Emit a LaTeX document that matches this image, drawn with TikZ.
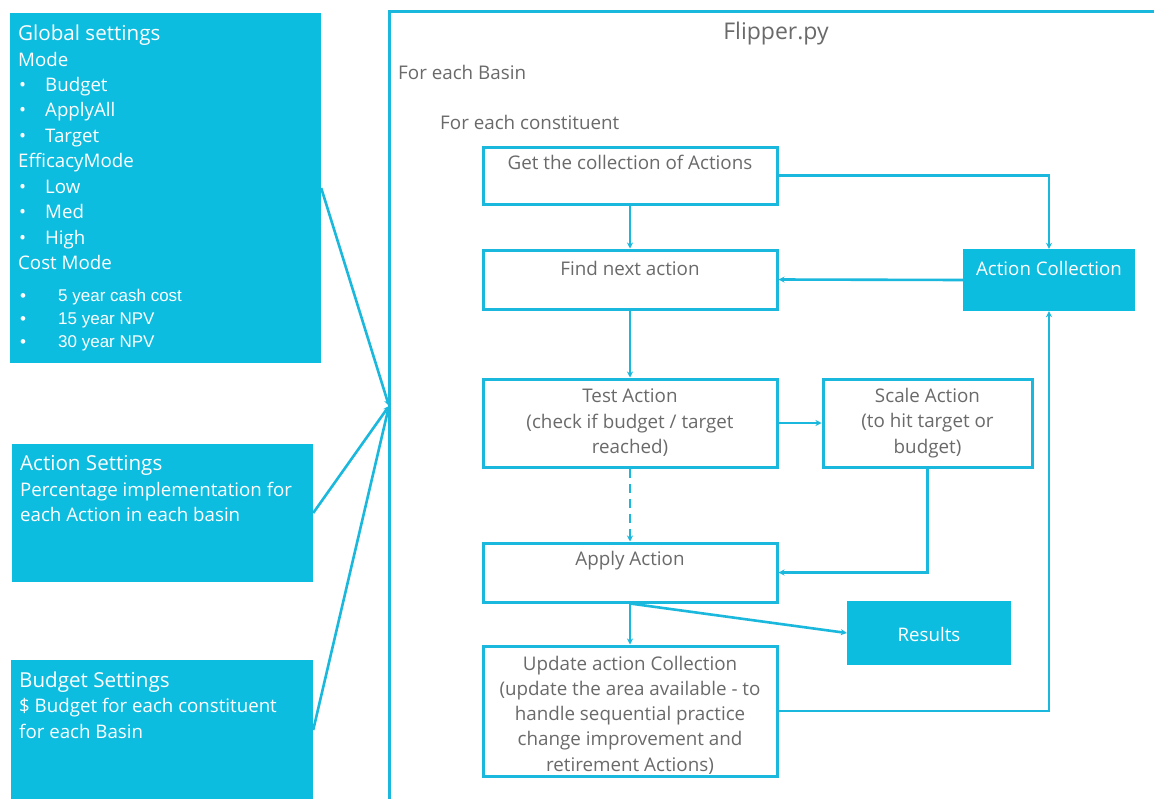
\documentclass[tikz,border=0pt]{standalone}
\usepackage{fontspec}
\setmainfont{Open Sans}
\newfontfamily\arialf{Liberation Sans}
\usetikzlibrary{arrows.meta}
\definecolor{cy}{HTML}{0DBDE0}
\definecolor{cyl}{HTML}{1AB8DC}
\definecolor{tg}{HTML}{6A6A6A}
\tikzset{
  wbox/.style={draw=cyl, line width=3pt, fill=white, inner sep=0pt},
  cbox/.style={fill=cy, draw=none, inner sep=0pt},
  wt/.style={text=white, inner sep=0pt, font=\fontsize{18.7}{22}\selectfont},
  gt/.style={text=tg, inner sep=0pt, font=\fontsize{18.8}{22}\selectfont},
  ct/.style={text=white, inner sep=0pt, font=\arialf\fontsize{17}{20}\selectfont},
  conn/.style={draw=cyl, line width=2.6pt, -{Stealth[length=6pt,width=6pt]}},
}
\newcommand{\bul}[1]{\makebox[27pt][l]{\hspace{1pt}•}#1}
\newcommand{\cbul}[1]{\makebox[40pt][l]{\hspace{2pt}•}#1}
\begin{document}
\begin{tikzpicture}[x=1pt,y=-1pt]
\clip (0,0) rectangle (1154,798);
\fill[white] (0,0) rectangle (1154,798);

% Flipper outer box
\node[draw=cyl, line width=3pt, anchor=north west, minimum width=800pt, minimum height=820pt, inner sep=0pt] (flip) at (388,10) {};
\node[gt, font=\fontsize{23}{26}\selectfont] (title) at (776,34) {Flipper.py};
\node[gt, anchor=west] (basin) at (398,72) {For each Basin};
\node[gt, anchor=west] (constit) at (440,122) {For each constituent};

% left settings boxes
\node[cbox, minimum width=311pt, minimum height=350pt] (global) at (165.5,188) {};
\node[cbox, minimum width=301pt, minimum height=138pt] (actset) at (162.5,513) {};
\node[cbox, minimum width=302pt, minimum height=140pt] (budset) at (162,730) {};

\node[wt, anchor=base west, font=\fontsize{20.6}{24}\selectfont] (g0) at (18,40) {Global settings};
\node[wt, anchor=base west] (g1) at (18,66) {Mode};
\node[wt, anchor=base west] (g2) at (18,91) {\bul{Budget}};
\node[wt, anchor=base west] (g3) at (18,116.5) {\bul{ApplyAll}};
\node[wt, anchor=base west] (g4) at (18,142) {\bul{Target}};
\node[wt, anchor=base west] (g5) at (18,167.5) {EfficacyMode};
\node[wt, anchor=base west] (g6) at (18,193) {\bul{Low}};
\node[wt, anchor=base west] (g7) at (18,218.5) {\bul{Med}};
\node[wt, anchor=base west] (g8) at (18,244) {\bul{High}};
\node[wt, anchor=base west] (g9) at (18,269) {Cost Mode};
\node[ct, anchor=base west] (g10) at (18,301) {\cbul{5 year cash cost}};
\node[ct, anchor=base west] (g11) at (18,324) {\cbul{15 year NPV}};
\node[ct, anchor=base west] (g12) at (18,347) {\cbul{30 year NPV}};

\node[wt, anchor=base west, font=\fontsize{20.6}{24}\selectfont] (a0) at (20,470) {Action Settings};
\node[wt, anchor=base west] (a1) at (20,496) {Percentage implementation for};
\node[wt, anchor=base west] (a2) at (20,521) {each Action in each basin};

\node[wt, anchor=base west, font=\fontsize{20.6}{24}\selectfont] (u0) at (19,687) {Budget Settings};
\node[wt, anchor=base west] (u1) at (19,712) {\$ Budget for each constituent};
\node[wt, anchor=base west] (u2) at (19,738) {for each Basin};

% flow boxes
\node[wbox, minimum width=294pt, minimum height=57pt] (get) at (630,175.5) {};
\node[wbox, minimum width=294pt, minimum height=59pt] (find) at (630,279.5) {};
\node[wbox, minimum width=294pt, minimum height=88pt] (test) at (630,423) {};
\node[wbox, minimum width=209pt, minimum height=88pt] (scale) at (927.5,423) {};
\node[wbox, minimum width=294pt, minimum height=59pt] (apply) at (630,572.5) {};
\node[wbox, minimum width=294pt, minimum height=130pt] (update) at (630,711) {};
\node[cbox, minimum width=172pt, minimum height=62pt] (actcoll) at (1049,280) {};
\node[cbox, minimum width=164pt, minimum height=64pt] (results) at (929,633) {};

\node[gt] (tget) at (630,162) {Get the collection of Actions};
\node[gt] (tfind) at (630,268) {Find next action};
\node[gt, align=center, font=\fontsize{18.8}{25.5}\selectfont] (ttest) at (630,423) {Test Action\\(check if budget / target\\reached)};
\node[gt, align=center, font=\fontsize{18.8}{25.5}\selectfont] (tscale) at (927.5,423) {Scale Action\\(to hit target or\\budget)};
\node[gt] (tapply) at (630,561) {Apply Action};
\node[gt, align=center, font=\fontsize{18.8}{25.3}\selectfont] (tupdate) at (630,715) {Update action Collection\\(update the area available - to\\handle sequential practice\\change improvement and\\retirement Actions)};
\node[wt] (tact) at (1049,268) {Action Collection};
\node[wt] (tres) at (929,634) {Results};

% connectors
\coordinate (conv) at (389,406);
\draw[conn] (global.east) -- (conv);
\draw[conn] (actset.east) -- (conv);
\draw[conn] (budset.east) -- (conv);

\draw[conn] (get.south) -- (find.north);
\draw[conn] (get.east) -| (actcoll.north);
\draw[conn] (actcoll.west) -- (find.east);
\draw[conn] (find.south) -- (test.north);
\draw[conn] (test.east) -- (scale.west);
\draw[conn, dash pattern=on 9pt off 6pt] (test.south) -- (apply.north);
\draw[conn] (scale.south) |- (apply.east);
\draw[conn] (apply.south) -- (update.north);
\draw[conn] (apply.south) -- (results.west);
\draw[conn] (update.east) -| (actcoll.south);
\end{tikzpicture}
\end{document}
